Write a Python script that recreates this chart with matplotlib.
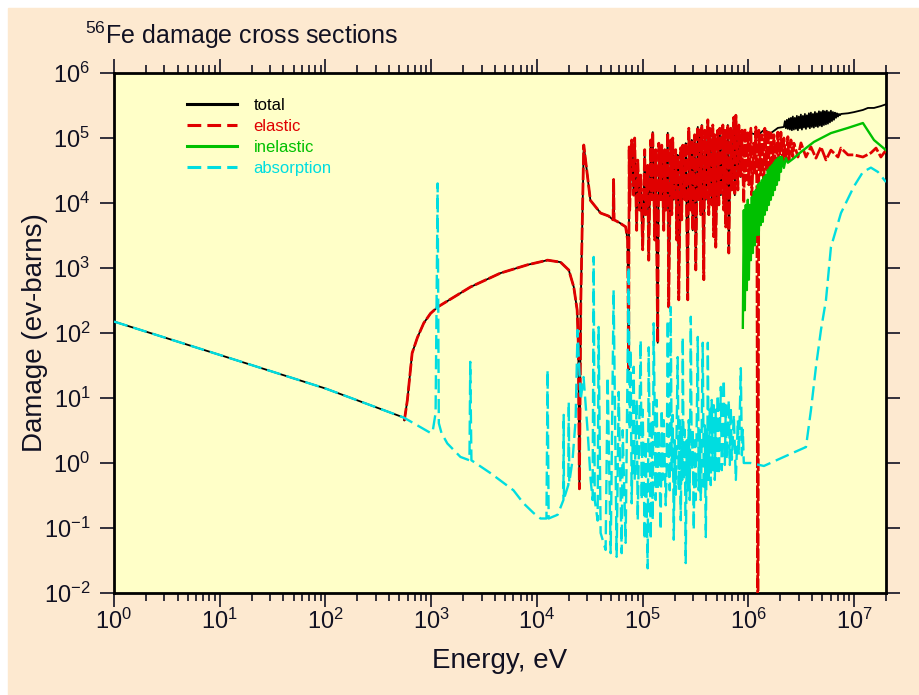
"""
plot.py - 56Fe damage cross sections (total / elastic / inelastic / absorption).
"""

import numpy as np
import matplotlib
matplotlib.use("Agg")
import matplotlib.pyplot as plt
from matplotlib.lines import Line2D
from matplotlib.patches import Rectangle
from matplotlib.ticker import LogLocator, NullLocator, NullFormatter

PEACH, PAPER, INK = "#fde9d0", "#ffffc8", "#111122"
BLACK, RED, GREEN, CYAN = "#000000", "#e00000", "#00c000", "#00dde0"

plt.rcParams.update({
    "font.family": ["Liberation Sans", "DejaVu Sans"],
    "mathtext.fontset": "custom",
    "mathtext.rm": "Liberation Sans",
    "mathtext.it": "Liberation Sans:italic",
    "mathtext.bf": "Liberation Sans:bold",
    "axes.unicode_minus": False,
    "text.color": INK, "xtick.color": INK, "ytick.color": INK,
})

# ---- data ----
# coarse lists: (energy eV, damage eV-barns)
# *_FINE lists: resonance fine structure as (log10 energy, log10 damage)

# 1/v region, shared by total and absorption
THERMAL = [(1.0, 150), (10.0, 46), (100.0, 14), (550.0, 5.0)]

ELASTIC = [
    (557, 4.5), (595, 9.3), (660, 49), (740, 85), (850, 142), (985, 200),
    (1150, 251), (2350, 510),
    (4520, 835), (8150, 1120), (12.6e3, 1320), (16.7e3, 1230), (20e3, 930),
    (22.3e3, 510), (24e3, 225), (24.6e3, 70), (25.2e3, 0.4), (26e3, 320),
    (27.7e3, 7.8e4), (32e3, 1.1e4), (40e3, 7.0e3), (47.6e3, 6.3e3),
    (52.5e3, 5.5e3), (53.1e3, 2.3e4), (53.7e3, 5.5e3), (60e3, 5.0e3),
    (66e3, 4.5e3), (69e3, 4.3e3), (72e3, 2.7e3), (73.7e3, 27), (74.5e3, 7.3e4),
    # fine structure 75 keV - 2.7 MeV in ELASTIC_FINE
    (2.94e6, 5.1e4), (3.14e6, 8.4e4), (3.5e6, 5.1e4), (3.9e6, 7.3e4),
    (4.35e6, 4.9e4), (4.85e6, 7.3e4), (5.41e6, 4.6e4), (6.03e6, 6.5e4),
    (7.03e6, 5.1e4), (7.5e6, 7.0e4), (8.74e6, 5.5e4), (9.95e6, 5.5e4),
    (12.1e6, 5.1e4), (14.4e6, 5.9e4), (16.1e6, 7.0e4), (17.9e6, 5.1e4),
    (20e6, 6.5e4),
]

ELASTIC_FINE = [
    (4.877, 3.89), (4.896, 4.97), (4.915, 4.12), (4.924, 5.00), (4.943, 3.58),
    (4.953, 4.66), (4.972, 3.89), (4.981, 4.43), (5.000, 3.28), (5.019, 4.82),
    (5.028, 3.82), (5.047, 4.58), (5.057, 3.12), (5.076, 4.97), (5.085, 4.05),
    (5.095, 5.09), (5.114, 3.43), (5.123, 4.82), (5.142, 1.85), (5.152, 4.92),
    (5.170, 4.05), (5.180, 4.89), (5.199, 3.58), (5.208, 4.82), (5.218, 3.89),
    (5.237, 5.08), (5.246, 2.40), (5.265, 4.97), (5.275, 3.82), (5.284, 5.00),
    (5.294, 4.05), (5.312, 4.82), (5.322, 3.43), (5.331, 4.74), (5.341, 2.51),
    (5.360, 4.85), (5.369, 3.74), (5.379, 4.89), (5.398, 4.05), (5.407, 4.92),
    (5.426, 2.51), (5.436, 5.15), (5.455, 3.89), (5.464, 4.97), (5.473, 3.58),
    (5.492, 5.05), (5.502, 2.97), (5.521, 5.17), (5.530, 4.05), (5.540, 5.12),
    (5.549, 3.82), (5.559, 5.20), (5.578, 2.82), (5.587, 5.12), (5.597, 4.05),
    (5.616, 5.28), (5.625, 3.82), (5.634, 5.15), (5.653, 3.97), (5.663, 5.20),
    (5.672, 3.48), (5.682, 5.05), (5.691, 3.32), (5.710, 5.12), (5.720, 3.97),
    (5.729, 5.15), (5.739, 4.12), (5.758, 5.20), (5.767, 3.89), (5.777, 5.12),
    (5.786, 3.63), (5.805, 5.20), (5.814, 3.23), (5.833, 5.15), (5.843, 4.20),
    (5.862, 5.32), (5.871, 4.12), (5.881, 5.35), (5.900, 4.20), (5.909, 5.20),
    (5.928, 4.40), (5.938, 5.12), (5.956, 4.00), (5.966, 5.15), (5.975, 4.35),
    (5.994, 5.08), (6.004, 4.28), (6.023, 5.15), (6.032, 4.12), (6.051, 4.92),
    (6.061, 4.43), (6.070, 5.17), (6.080, 4.20), (6.089, -4.0), (6.098, 5.12),
    (6.117, 4.43), (6.127, 5.05), (6.146, 4.28), (6.155, 5.15), (6.174, 4.51),
    (6.184, 5.12), (6.203, 4.35), (6.212, 5.08), (6.231, 4.58), (6.241, 5.05),
    (6.259, 4.51), (6.278, 5.09), (6.288, 4.51), (6.307, 5.09), (6.326, 4.58),
    (6.335, 5.00), (6.354, 4.66), (6.373, 5.02), (6.383, 4.66), (6.402, 4.97),
    (6.420, 4.71), (6.430, 4.92),
]

# total above the inelastic threshold (below it total follows elastic)
TOTAL_HIGH = [
    (885e3, 1.04e5), (1.05e6, 1.19e5), (1.23e6, 1.11e5), (1.40e6, 1.33e5),
    (1.63e6, 1.19e5), (1.90e6, 1.43e5),
    # noisy part 2.2 - 7.5 MeV in TOTAL_FINE
    (8.74e6, 2.4e5), (9.95e6, 2.5e5), (12.1e6, 2.7e5), (13.5e6, 2.9e5),
    (15.4e6, 2.9e5), (17.9e6, 3.1e5), (20e6, 3.3e5),
]

TOTAL_FINE = [
    (6.335, 5.17), (6.345, 5.26), (6.354, 5.15), (6.364, 5.28), (6.373, 5.14),
    (6.383, 5.30), (6.392, 5.13), (6.402, 5.31), (6.411, 5.12), (6.420, 5.33),
    (6.430, 5.13), (6.439, 5.31), (6.449, 5.14), (6.458, 5.34), (6.468, 5.12),
    (6.477, 5.33), (6.487, 5.15), (6.496, 5.36), (6.506, 5.13), (6.515, 5.34),
    (6.525, 5.16), (6.534, 5.37), (6.544, 5.14), (6.553, 5.35), (6.563, 5.17),
    (6.572, 5.38), (6.581, 5.15), (6.591, 5.39), (6.600, 5.17), (6.610, 5.37),
    (6.619, 5.16), (6.629, 5.40), (6.638, 5.18), (6.648, 5.38), (6.657, 5.17),
    (6.667, 5.41), (6.676, 5.19), (6.686, 5.40), (6.695, 5.18), (6.705, 5.42),
    (6.714, 5.20), (6.723, 5.41), (6.733, 5.21), (6.742, 5.42), (6.752, 5.22),
    (6.761, 5.40), (6.771, 5.24), (6.780, 5.42), (6.790, 5.26), (6.799, 5.40),
    (6.809, 5.28), (6.818, 5.39), (6.828, 5.31), (6.837, 5.38), (6.847, 5.33),
    (6.856, 5.37), (6.866, 5.35), (6.875, 5.37),
]

INELASTIC = [
    # threshold region 0.89 - 2.4 MeV in INELASTIC_FINE
    (2.69e6, 4.9e4), (3.14e6, 6.1e4), (4.16e6, 8.7e4), (6.03e6, 1.19e5),
    (8.74e6, 1.43e5), (12.1e6, 1.70e5), (15.4e6, 9.3e4), (20e6, 6.5e4),
]

INELASTIC_FINE = [
    (5.947, 2.08), (5.956, 3.89), (5.966, 2.35), (5.975, 3.97), (5.985, 2.66),
    (5.994, 4.05), (6.004, 2.82), (6.013, 3.97), (6.023, 3.12), (6.032, 4.09),
    (6.042, 3.23), (6.051, 4.17), (6.061, 3.35), (6.070, 4.20), (6.080, 3.51),
    (6.089, 4.28), (6.098, 3.51), (6.108, 4.31), (6.117, 3.66), (6.127, 4.35),
    (6.136, 3.71), (6.146, 4.40), (6.155, 3.82), (6.165, 4.43), (6.174, 3.89),
    (6.184, 4.51), (6.193, 3.97), (6.203, 4.55), (6.212, 4.05), (6.222, 4.58),
    (6.231, 4.12), (6.241, 4.62), (6.250, 4.20), (6.259, 4.66), (6.269, 4.28),
    (6.278, 4.69), (6.288, 4.35), (6.297, 4.71), (6.307, 4.48), (6.316, 4.71),
    (6.335, 4.54), (6.354, 4.69), (6.373, 4.62),
]

ABSORPTION = [
    (985, 2.9), (1030, 3.0), (1100, 5.9), (1150, 2.0e4), (1180, 4.1),
    (1250, 2.9), (1420, 2.0), (1890, 1.24), (2300, 1.1), (2340, 36),
    (2400, 1.1), (3630, 0.70), (6000, 0.38), (7460, 0.24), (9290, 0.17),
    (10.8e3, 0.14), (12.3e3, 0.14), (12.6e3, 27), (12.9e3, 0.14),
    (15.7e3, 0.16), (17.8e3, 0.27), (17.9e3, 5.5), (18.0e3, 0.28),
    (19.8e3, 0.46), (20e3, 8.7), (20.2e3, 0.5), (21.7e3, 1.1), (23.2e3, 4.6),
    (24.2e3, 111), (25.9e3, 9.3), (27.6e3, 21), (30.1e3, 3.2), (32.2e3, 0.55),
    (33.6e3, 0.27), (34.4e3, 1480), (35.2e3, 0.27), (37.5e3, 0.13),
    (38.3e3, 124), (40e3, 0.084), (44.6e3, 0.046), (46.6e3, 21),
    (49.8e3, 0.041), (53.1e3, 460), (56.7e3, 0.036), (59.3e3, 12.4),
    (63.3e3, 0.041), (64.7e3, 3.2), (69e3, 0.059),
    # unresolved resonances 73 - 900 keV in ABSORPTION_FINE
    (945e3, 1.0), (1.05e6, 1.0), (1.40e6, 0.9), (2.16e6, 1.24),
    (3.5e6, 1.76), (3.9e6, 6.5), (4.35e6, 30), (4.85e6, 111), (5.41e6, 320),
    (6.03e6, 2.1e3), (7.5e6, 7.0e3), (9.95e6, 1.8e4), (12.1e6, 3.0e4),
    (14.4e6, 3.5e4), (16.8e6, 3.0e4), (20e6, 2.1e4),
]

ABSORPTION_FINE = [
    (4.867, 3.02), (4.877, 0.51), (4.886, 1.74), (4.896, -0.62), (4.915, 1.48),
    (4.924, -0.26), (4.943, 0.97), (4.953, -0.88), (4.981, 1.89), (4.991, -0.57),
    (5.000, 0.82), (5.019, -1.18), (5.028, 0.35), (5.047, -1.62), (5.057, 1.78),
    (5.076, -1.18), (5.085, 0.66), (5.095, -0.88), (5.104, 2.15), (5.123, -0.57),
    (5.133, 0.97), (5.142, -0.42), (5.152, 0.51), (5.170, -1.03), (5.180, 0.82),
    (5.189, -0.26), (5.199, 0.66), (5.218, -0.65), (5.227, -0.11), (5.237, 2.20),
    (5.246, 0.05), (5.256, -0.42), (5.265, 2.40), (5.275, -0.11), (5.284, 0.74),
    (5.294, -1.18), (5.303, 0.35), (5.312, -0.49), (5.331, 1.63), (5.341, -0.42),
    (5.350, 0.66), (5.360, -0.88), (5.369, 0.58), (5.374, -0.26), (5.379, 1.94),
    (5.388, -0.26), (5.398, 0.51), (5.407, -1.54), (5.417, 0.35), (5.426, -0.42),
    (5.436, 0.66), (5.445, -0.57), (5.455, 2.25), (5.464, -0.11), (5.473, 0.51),
    (5.483, -1.03), (5.492, 0.35), (5.502, -0.57), (5.521, 1.94), (5.530, -0.42),
    (5.540, 0.51), (5.549, -0.57), (5.554, -0.26), (5.559, 0.66), (5.568, 1.85),
    (5.578, -0.42), (5.587, 0.58), (5.597, -1.14), (5.606, 0.51), (5.611, -0.26),
    (5.616, 1.85), (5.625, -0.26), (5.634, 0.82), (5.644, -0.34), (5.653, 0.97),
    (5.663, -0.11), (5.672, 0.89), (5.682, -0.26), (5.691, 0.82), (5.701, -0.18),
    (5.710, 1.05), (5.720, -0.18), (5.739, 1.17), (5.748, -0.11), (5.767, 1.28),
    (5.777, -0.03), (5.786, 0.89), (5.795, 0.05), (5.814, 0.97), (5.824, -0.03),
    (5.833, 0.86), (5.843, 0.05), (5.862, 0.74), (5.881, -0.26), (5.900, 0.66),
    (5.909, 0.12), (5.928, 1.46), (5.938, 0.12), (5.947, 0.51), (5.956, 0.00),
]

LABELS = ["total", "elastic", "inelastic", "absorption"]
X_TICKS = [1e0, 1e1, 1e2, 1e3, 1e4, 1e5, 1e6, 1e7]
Y_TICKS = [1e-2, 1e-1, 1e0, 1e1, 1e2, 1e3, 1e4, 1e5, 1e6]


def merge(coarse, fine=()):
    """Coarse (E, D) rows plus fine (log10 E, log10 D) rows, sorted by energy."""
    e = [r[0] for r in coarse] + [10.0 ** r[0] for r in fine]
    d = [r[1] for r in coarse] + [10.0 ** r[1] for r in fine]
    e, d = np.array(e), np.array(d)
    order = np.argsort(e, kind="stable")
    return e[order], d[order]


el_E, el_D = merge(ELASTIC, ELASTIC_FINE)
in_E, in_D = merge(INELASTIC, INELASTIC_FINE)
abs_E, abs_D = merge(THERMAL + ABSORPTION, ABSORPTION_FINE)
hi_E, hi_D = merge(TOTAL_HIGH, TOTAL_FINE)
th_E, th_D = merge(THERMAL)

below = el_E < 880e3
tot_E = np.concatenate([th_E, el_E[below], hi_E])
tot_D = np.concatenate([th_D, el_D[below], hi_D])

# ---- figure ----
fig = plt.figure(figsize=(9.19, 6.95), dpi=100, facecolor="white")
fig.patches.append(Rectangle((8 / 919, 0), 1, 1 - 8 / 695,
                             transform=fig.transFigure, color=PEACH, zorder=-5))
ax = fig.add_axes([114 / 919, 1 - 593 / 695, 772 / 919, 520 / 695])
ax.set_facecolor(PAPER)

ax.plot(tot_E, tot_D, color=BLACK, lw=1.3, zorder=2)
ax.plot(el_E, el_D, color=RED, lw=2.0, dashes=(4.5, 0.9), zorder=3)
ax.plot(in_E, in_D, color=GREEN, lw=1.7, zorder=4)
ax.plot(abs_E, abs_D, color=CYAN, lw=1.7, dashes=(6, 2.5), zorder=5)

ax.set_xscale("log")
ax.set_yscale("log")
ax.set_xticks(X_TICKS)
ax.set_yticks(Y_TICKS)
ax.xaxis.set_minor_locator(LogLocator(base=10, subs=np.arange(2, 10), numticks=20))
ax.xaxis.set_minor_formatter(NullFormatter())
ax.yaxis.set_minor_locator(NullLocator())
ax.set_xlim(1, 2e7)
ax.set_ylim(1e-2, 1e6)

ax.tick_params(which="both", direction="out", top=True, right=True,
               labeltop=False, labelright=False, width=1.2, labelsize=17)
ax.tick_params(which="major", length=10)
ax.tick_params(which="minor", length=6)
ax.tick_params(axis="x", pad=1)
ax.tick_params(axis="y", pad=7)
for s in ax.spines.values():
    s.set_linewidth(2)

# legend (proxy handles, coloured labels)
handles = [Line2D([], [], color=BLACK, lw=2.2),
           Line2D([], [], color=RED, lw=2.2, dashes=(4.5, 2)),
           Line2D([], [], color=GREEN, lw=2.2),
           Line2D([], [], color=CYAN, lw=2.2, dashes=(4.5, 2))]
ax.legend(handles, LABELS, loc="upper left", bbox_to_anchor=(0.0946, 0.952),
          frameon=False, fontsize=12, handlelength=3.0, handletextpad=1.0,
          labelspacing=0.36, borderpad=0, borderaxespad=0,
          labelcolor=[BLACK, RED, GREEN, CYAN])

fig.text(85 / 919, 1 - 44 / 695, r"$^{56}$Fe damage cross sections",
         fontsize=18, va="baseline")
fig.text(500 / 919, 1 - 668 / 695, "Energy, eV", fontsize=20,
         ha="center", va="baseline")
fig.text(35 / 919, 1 - 333 / 695, "Damage (ev-barns)", fontsize=20,
         rotation=90, ha="center", va="center")

fig.savefig("out.png", dpi=100, facecolor=fig.get_facecolor())
